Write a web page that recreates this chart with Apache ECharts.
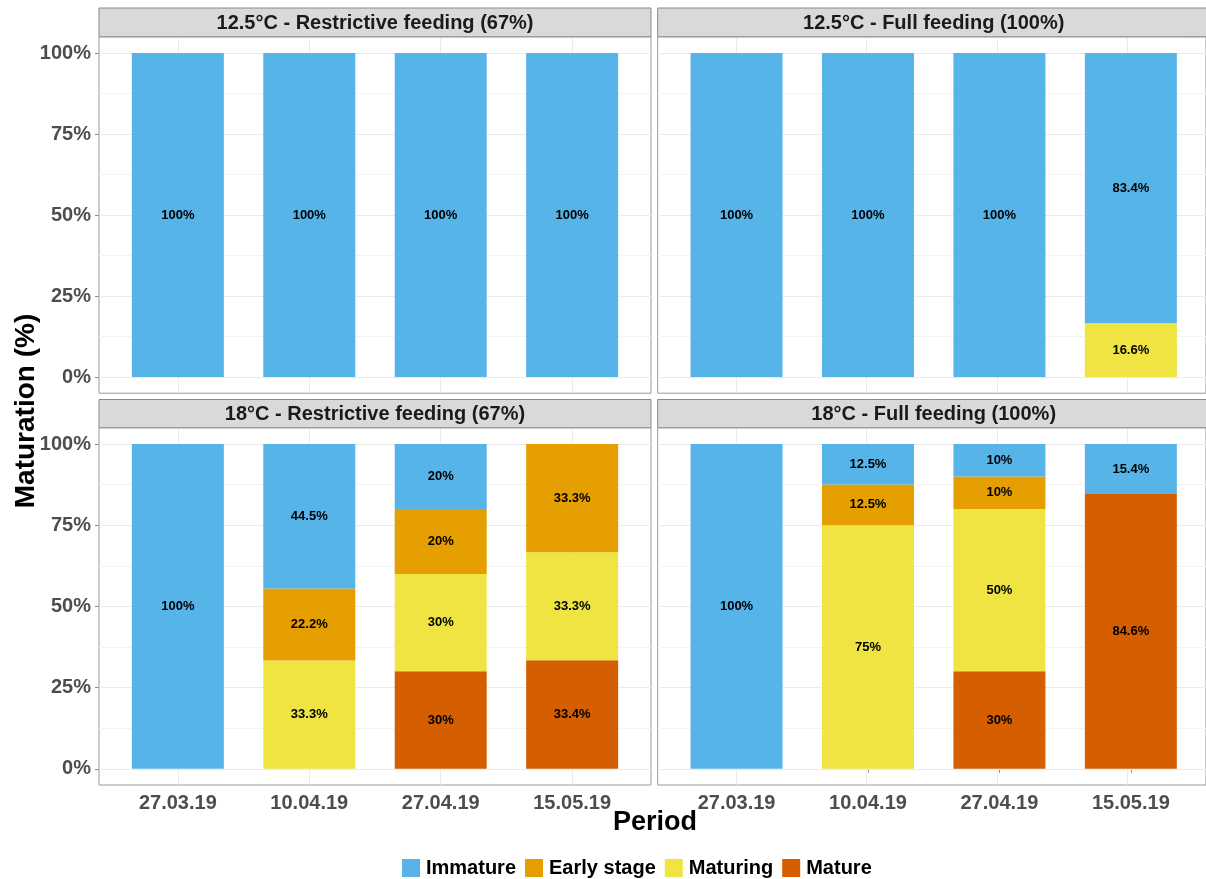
<!DOCTYPE html>
<html>
<head>
<meta charset="utf-8">
<script src="https://cdn.jsdelivr.net/npm/echarts@6/dist/echarts.min.js"></script>
<style>html,body{margin:0;padding:0;background:#fff;}#c{width:1206px;height:879px;}</style>
</head>
<body>
<div id="c"></div>
<script>
// ---- data ----
const periods = ['27.03.19', '10.04.19', '27.04.19', '15.05.19'];
const stages = ['Immature', 'Early stage', 'Maturing', 'Mature'];
const stageColors = ['#56B4E9', '#E69F00', '#F0E442', '#D55E00'];
const panelTitles = [
  '12.5°C - Restrictive feeding (67%)',
  '12.5°C - Full feeding (100%)',
  '18°C - Restrictive feeding (67%)',
  '18°C - Full feeding (100%)'
];
const yTicks = [0, 25, 50, 75, 100];
const yGrid = [0, 12.5, 25, 37.5, 50, 62.5, 75, 87.5, 100];
// values per panel, per stage (index matches periods)
const p1_immature = [100, 100, 100, 100];
const p1_early    = [0, 0, 0, 0];
const p1_maturing = [0, 0, 0, 0];
const p1_mature   = [0, 0, 0, 0];
const p2_immature = [100, 100, 100, 83.4];
const p2_early    = [0, 0, 0, 0];
const p2_maturing = [0, 0, 0, 16.6];
const p2_mature   = [0, 0, 0, 0];
const p3_immature = [100, 44.5, 20, 0];
const p3_early    = [0, 22.2, 20, 33.3];
const p3_maturing = [0, 33.3, 30, 33.3];
const p3_mature   = [0, 0, 30, 33.4];
const p4_immature = [100, 12.5, 10, 15.4];
const p4_early    = [0, 12.5, 10, 0];
const p4_maturing = [0, 75, 50, 0];
const p4_mature   = [0, 0, 30, 84.6];

const panels = [
  [p1_immature, p1_early, p1_maturing, p1_mature],
  [p2_immature, p2_early, p2_maturing, p2_mature],
  [p3_immature, p3_early, p3_maturing, p3_mature],
  [p4_immature, p4_early, p4_maturing, p4_mature]
];

// ---- layout ----
const FONT = '"Liberation Sans", Arial, sans-serif';
const panelW = 552;
const band = panelW / 4.2;           // discrete expansion of 0.6 band each side
const inset = band * 0.1;
const colLeft = [99, 657.7];
const rowTop = [36.8, 427.75];
const rowH = [356.4, 357.25];
const stripTop = [8, 399.5];

const grids = [], xAxes = [], yAxes = [], series = [], graphics = [];
const tickStyle = { color: '#8a8a8a' };
const labelStyle = { color: '#4d4d4d', fontSize: 20, fontWeight: 'bold', fontFamily: FONT, margin: 8 };

for (let p = 0; p < 4; p++) {
  const col = p % 2, row = Math.floor(p / 2);
  const fg = 2 * p, bg = 2 * p + 1;
  // frame grid (full panel): border, gridlines, y labels
  grids.push({
    left: colLeft[col], top: rowTop[row], width: panelW, height: rowH[row],
    show: true, borderColor: '#9a9a9a', borderWidth: 1, backgroundColor: '#fff'
  });
  xAxes.push({
    type: 'value', gridIndex: fg, min: 0.4, max: 4.6,
    axisLine: { show: false }, splitLine: { show: false },
    axisTick: { show: false }, axisLabel: { show: false }
  });
  yAxes.push({
    type: 'value', gridIndex: fg, min: -5, max: 105,
    axisLine: { show: false }, splitLine: { show: false },
    axisTick: { show: col === 0, customValues: yTicks, length: 4, lineStyle: tickStyle },
    axisLabel: Object.assign({ show: col === 0, customValues: yTicks, formatter: v => v + '%' }, labelStyle)
  });
  series.push({
    type: 'scatter', xAxisIndex: fg, yAxisIndex: fg, data: [], silent: true, z: 1,
    markLine: {
      silent: true, symbol: 'none', z: 1, animation: false,
      label: { show: false },
      data: [
        ...yGrid.map(v => ({ yAxis: v, lineStyle: { color: (v % 25 === 0) ? '#ebebeb' : '#f3f3f3', width: 1, type: 'solid' } })),
        ...[1, 2, 3, 4].map(v => ({ xAxis: v, lineStyle: { color: '#ebebeb', width: 1, type: 'solid' } }))
      ]
    }
  });
  // bar grid (inner, category bands)
  grids.push({
    left: colLeft[col] + inset, top: rowTop[row], width: panelW - 2 * inset, height: rowH[row], show: false
  });
  xAxes.push({
    type: 'category', gridIndex: bg, data: periods, boundaryGap: true,
    axisLine: { show: false }, splitLine: { show: false },
    axisTick: { show: row === 1, alignWithLabel: true, length: 4, lineStyle: tickStyle },
    axisLabel: Object.assign({ show: row === 1 }, labelStyle)
  });
  yAxes.push({
    type: 'value', gridIndex: bg, min: -5, max: 105,
    axisLine: { show: false }, splitLine: { show: false },
    axisTick: { show: false }, axisLabel: { show: false }
  });
  // stacked bars: bottom Mature -> Maturing -> Early -> Immature top
  for (let s = 3; s >= 0; s--) {
    series.push({
      type: 'bar', name: stages[s], stack: 'panel' + p,
      xAxisIndex: bg, yAxisIndex: bg, barWidth: '70%', z: 2,
      itemStyle: { color: stageColors[s] },
      label: {
        show: true, position: 'inside',
        formatter: prm => (prm.value ? prm.value + '%' : ''),
        color: '#000', fontSize: 13, fontWeight: 'bold', fontFamily: FONT
      },
      data: panels[p][s]
    });
  }
  // strip
  graphics.push({
    type: 'rect', shape: { x: colLeft[col], y: stripTop[row], width: panelW, height: rowTop[row] - stripTop[row] },
    style: { fill: '#d9d9d9', stroke: '#8a8a8a', lineWidth: 1 }, z: 10
  });
  graphics.push({
    type: 'text', x: colLeft[col] + panelW / 2, y: (stripTop[row] + rowTop[row]) / 2 + 1, z: 11,
    style: { text: panelTitles[p], font: 'bold 20px ' + FONT, fill: '#1a1a1a', textAlign: 'center', textVerticalAlign: 'middle' }
  });
}
graphics.push({
  type: 'text', x: 26, y: 411, rotation: Math.PI / 2, z: 11,
  style: { text: 'Maturation (%)', font: 'bold 28px ' + FONT, fill: '#000', textAlign: 'center', textVerticalAlign: 'middle' }
});
graphics.push({
  type: 'text', x: 655, y: 823, z: 11,
  style: { text: 'Period', font: 'bold 27px ' + FONT, fill: '#000', textAlign: 'center', textVerticalAlign: 'middle' }
});

const chart = echarts.init(document.getElementById('c'), null, { renderer: 'canvas' });
chart.setOption({
  animation: false,
  backgroundColor: '#fff',
  grid: grids, xAxis: xAxes, yAxis: yAxes, series: series,
  legend: {
    data: stages, left: 397, top: 853, itemWidth: 18, itemHeight: 18, itemGap: 9, icon: 'rect',
    textStyle: { fontSize: 20, fontWeight: 'bold', color: '#000', fontFamily: FONT, padding: [0, 0, 0, 1] }
  },
  graphic: graphics
});
</script>
</body>
</html>
